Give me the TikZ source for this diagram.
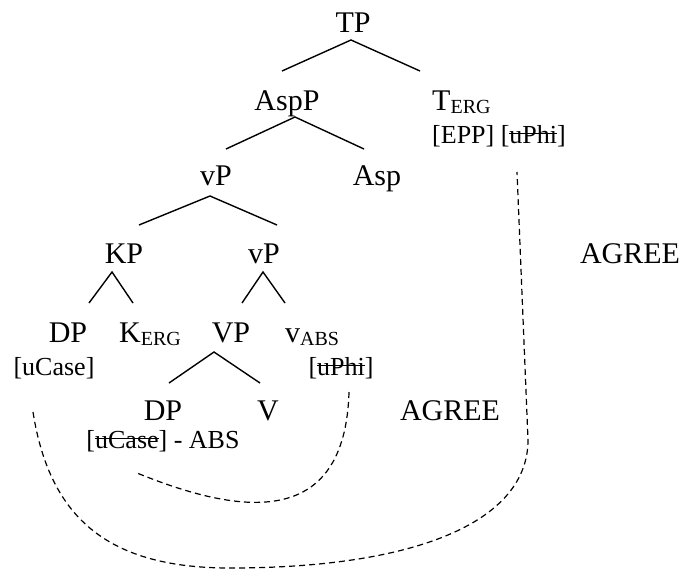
\documentclass[tikz,border=0pt]{standalone}
\usepackage{fontspec}
\setmainfont{Liberation Serif}
\newcommand\strk[1]{\leavevmode\setbox0\hbox{#1}\rlap{\rule[0.33em]{\wd0}{1.4pt}}\box0}
\newcommand\subsc[1]{\raisebox{-3pt}{\fontsize{20}{24}\selectfont #1}}
\tikzset{
  lab/.style={font=\fontsize{30}{36}\selectfont, inner sep=0pt, anchor=base},
  feat/.style={font=\fontsize{26}{31}\selectfont, inner sep=0pt, anchor=base},
  edge/.style={line width=1.4pt},
  agree/.style={line width=1.2pt, dash pattern=on 6pt off 4pt}
}
\begin{document}
\begin{tikzpicture}[x=1pt,y=-1pt]
\fill[white] (0,0) rectangle (684,571);
\useasboundingbox (0,0) rectangle (684,571);
% labels
\node[lab] (TP) at (353,32) {TP};
\node[lab] (AspP) at (287,110) {AspP};
\node[lab, anchor=base west] (T) at (432,110) {T\subsc{ERG}};
\node[feat, anchor=base west] (Tf) at (432,143) {[EPP] [\strk{uPhi}]};
\node[lab] (vP1) at (216,185) {vP};
\node[lab] (Asp) at (377,185) {Asp};
\node[lab] (KP) at (124,263) {KP};
\node[lab] (vP2) at (264,263) {vP};
\node[lab] (AG1) at (630,263) {AGREE};
\node[lab] (DP1) at (68,342) {DP};
\node[lab, anchor=base west] (K) at (119,342) {K\subsc{ERG}};
\node[lab] (VP) at (231,342) {VP};
\node[lab, anchor=base west] (v) at (285,342) {v\subsc{ABS}};
\node[feat] (DP1f) at (54,375) {[uCase]};
\node[feat] (vf) at (341,375) {[\strk{uPhi}]};
\node[lab] (DP2) at (163,420) {DP};
\node[lab] (V) at (268,420) {V};
\node[lab] (AG2) at (450,420) {AGREE};
\node[feat] (DP2f) at (163,448) {[\strk{uCase}] - ABS};
% tree edges
\coordinate (TPa) at (351,40);  \coordinate (TPl) at (282,71);  \coordinate (TPr) at (420,71);
\coordinate (AAa) at (295,117); \coordinate (AAl) at (226,149); \coordinate (AAr) at (364,149);
\coordinate (v1a) at (210,196); \coordinate (v1l) at (139,225); \coordinate (v1r) at (277,225);
\coordinate (KPa) at (112,272); \coordinate (KPl) at (89,303);  \coordinate (KPr) at (133,303);
\coordinate (v2a) at (263,272); \coordinate (v2l) at (242,303); \coordinate (v2r) at (285,303);
\coordinate (VPa) at (214,352); \coordinate (VPl) at (169,383); \coordinate (VPr) at (260,383);
\draw[edge] (TPl) -- (TPa) -- (TPr);
\draw[edge] (AAl) -- (AAa) -- (AAr);
\draw[edge] (v1l) -- (v1a) -- (v1r);
\draw[edge] (KPl) -- (KPa) -- (KPr);
\draw[edge] (v2l) -- (v2a) -- (v2r);
\draw[edge] (VPl) -- (VPa) -- (VPr);
% agree curves
\coordinate (o1) at (33,412);
\coordinate (o2) at (230,568);
\coordinate (o3) at (528,440);
\coordinate (o4) at (517,172);
\draw[agree] (o1) .. controls (50,520) and (110,568) .. (o2)
  .. controls (420,568) and (528,520) .. (o3) -- (o4);
\coordinate (i1) at (349,392);
\coordinate (i2) at (137,473);
\draw[agree] (i1) .. controls (345,530) and (240,515) .. (i2);
\end{tikzpicture}
\end{document}
